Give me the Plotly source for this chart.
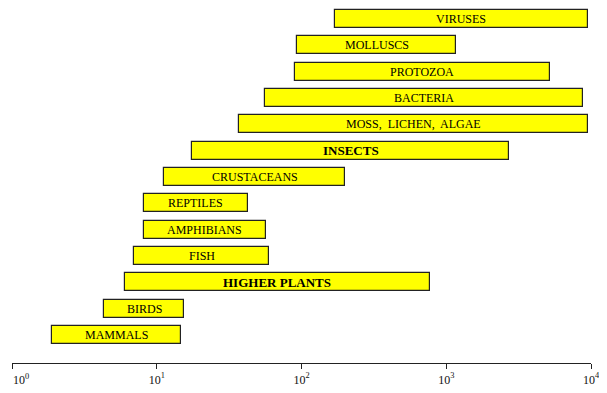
import math
import plotly.graph_objects as go

groups = ["MAMMALS", "BIRDS", "HIGHER PLANTS", "FISH", "AMPHIBIANS", "REPTILES",
          "CRUSTACEANS", "INSECTS", "MOSS,  LICHEN,  ALGAE", "BACTERIA", "PROTOZOA",
          "MOLLUSCS", "VIRUSES"]
range_start = [1.9, 4.3, 6.0, 7.0, 8.1, 8.1, 11.3, 17.6, 37, 56, 90, 93, 170]
range_end = [14.8, 15.5, 767, 60, 57, 43, 199, 2725, 9500, 8800, 5200, 1175, 9500]
label_size = [12, 12, 13, 12, 12, 12, 12, 13, 12, 12, 12, 12, 12]
label_bold = [False, False, True, False, False, False, False, True, False, False, False, False, False]
tick_vals = [1, 10, 100, 1000, 10000]
tick_text = ["10<sup>0</sup>", "10<sup>1</sup>", "10<sup>2</sup>", "10<sup>3</sup>", "10<sup>4</sup>"]

ypos = list(range(len(groups)))
fig = go.Figure()
fig.add_trace(go.Bar(
    y=ypos,
    x=[e - s for s, e in zip(range_start, range_end)],
    base=range_start,
    orientation="h",
    width=0.68,
    marker=dict(color="#FFFF00", line=dict(color="#222222", width=1.2)),
    hoverinfo="skip",
    showlegend=False,
))

for i, (g, s, e, fs, b) in enumerate(zip(groups, range_start, range_end, label_size, label_bold)):
    fig.add_annotation(
        x=(math.log10(s) + math.log10(e)) / 2, y=i,
        text=f"<b>{g}</b>" if b else g,
        showarrow=False, xanchor="center", yanchor="middle",
        font=dict(family="Liberation Serif", size=fs, color="#000000"),
    )

# first tick label drawn as an annotation so it stays inside the page
fig.add_annotation(
    x=math.log10(tick_vals[0]), xref="x", y=0, yref="paper",
    text=tick_text[0], showarrow=False, xanchor="left", yanchor="middle",
    xshift=-1, yshift=-16,
    font=dict(family="Liberation Serif", size=12, color="#111111"),
)

fig.update_xaxes(
    type="log", range=[0, 4], automargin=False,
    tickvals=tick_vals, ticktext=[""] + tick_text[1:],
    ticks="outside", ticklen=5, tickcolor="#222222", tickwidth=1,
    showline=True, linecolor="#222222", linewidth=1.2,
    showgrid=False, zeroline=False,
    tickfont=dict(family="Liberation Serif", size=12, color="#111111"),
)
fig.update_yaxes(
    range=[-1.065, 12.418], showticklabels=False, showgrid=False, automargin=False,
    zeroline=False, showline=False, ticks="",
)
fig.update_layout(
    width=599, height=385,
    margin=dict(l=4, r=16, t=0, b=30),
    paper_bgcolor="white", plot_bgcolor="white",
    bargap=0,
)
fig.write_html("out.html")
